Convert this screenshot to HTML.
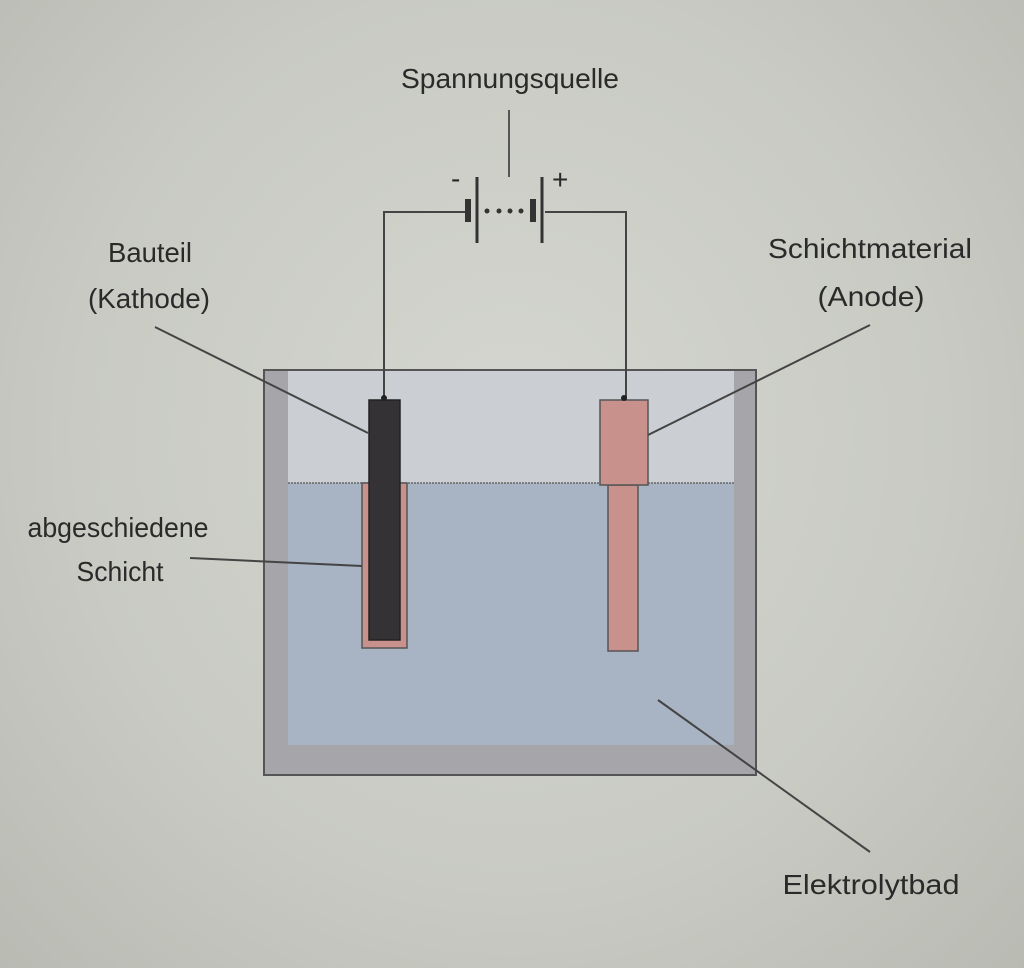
<!DOCTYPE html>
<html><head><meta charset="utf-8"><style>
html,body{margin:0;padding:0;}
body{width:1024px;height:968px;overflow:hidden;background:radial-gradient(ellipse at 50% 45%,#d4d6cf 0%,#c8cac3 60%,#b9bbb3 100%);}
svg{display:block}
text{font-family:"Liberation Sans Narrow","Liberation Sans",sans-serif;fill:#2a2a2a;font-size:28px;}
</style></head><body>
<svg width="1024" height="968" viewBox="0 0 1024 968">
<!-- tank -->
<rect x="264" y="370" width="492" height="405" fill="#a6a5a9" stroke="#555" stroke-width="2"/>
<rect x="288" y="371" width="446" height="112" fill="#cbced3"/>
<rect x="288" y="483" width="446" height="262" fill="#a8b3c3"/>
<line x1="288" y1="483" x2="734" y2="483" stroke="#666" stroke-width="1.5" stroke-dasharray="2 1"/>
<!-- cathode -->
<rect x="362" y="483" width="45" height="165" fill="#c9918b" stroke="#555" stroke-width="1.5"/>
<rect x="369" y="400" width="31" height="240" fill="#343234" stroke="#222" stroke-width="1.5"/>
<!-- anode -->
<rect x="608" y="485" width="30" height="166" fill="#c9918b" stroke="#555" stroke-width="1.5"/>
<rect x="600" y="400" width="48" height="85" fill="#c9918b" stroke="#555" stroke-width="1.5"/>
<!-- wires -->
<polyline points="384,400 384,212 468,212" fill="none" stroke="#444" stroke-width="2"/>
<polyline points="545,212 626,212 626,400" fill="none" stroke="#444" stroke-width="2"/>
<circle cx="384" cy="398" r="3" fill="#222"/>
<circle cx="624" cy="398" r="3" fill="#222"/>
<!-- battery -->
<line x1="509" y1="110" x2="509" y2="177" stroke="#555" stroke-width="2"/>
<line x1="468" y1="199" x2="468" y2="222" stroke="#333" stroke-width="6"/>
<line x1="477" y1="177" x2="477" y2="243" stroke="#333" stroke-width="3"/>
<line x1="533" y1="199" x2="533" y2="222" stroke="#333" stroke-width="6"/>
<line x1="542" y1="177" x2="542" y2="243" stroke="#333" stroke-width="3"/>
<circle cx="487" cy="211" r="2.5" fill="#333"/><circle cx="499" cy="211" r="2.5" fill="#333"/>
<circle cx="510" cy="211" r="2.5" fill="#333"/><circle cx="521" cy="211" r="2.5" fill="#333"/>
<text x="451" y="188" font-size="20">-</text>
<text x="552" y="189" font-size="20">+</text>
<!-- leader lines -->
<line x1="155" y1="327" x2="368" y2="433" stroke="#444" stroke-width="2"/>
<line x1="870" y1="325" x2="648" y2="435" stroke="#444" stroke-width="2"/>
<line x1="190" y1="558" x2="362" y2="566" stroke="#444" stroke-width="2"/>
<line x1="658" y1="700" x2="870" y2="852" stroke="#444" stroke-width="2"/>
<!-- labels -->
<text x="510" y="88" text-anchor="middle" textLength="218" lengthAdjust="spacingAndGlyphs">Spannungsquelle</text>
<text x="150" y="262" text-anchor="middle" textLength="84" lengthAdjust="spacingAndGlyphs">Bauteil</text>
<text x="149" y="308" text-anchor="middle" textLength="122" lengthAdjust="spacingAndGlyphs">(Kathode)</text>
<text x="870" y="258" text-anchor="middle" textLength="204" lengthAdjust="spacingAndGlyphs">Schichtmaterial</text>
<text x="871" y="306" text-anchor="middle" textLength="107" lengthAdjust="spacingAndGlyphs">(Anode)</text>
<text x="118" y="537" text-anchor="middle" textLength="181" lengthAdjust="spacingAndGlyphs">abgeschiedene</text>
<text x="120" y="581" text-anchor="middle" textLength="87" lengthAdjust="spacingAndGlyphs">Schicht</text>
<text x="871" y="894" text-anchor="middle" textLength="177" lengthAdjust="spacingAndGlyphs">Elektrolytbad</text>
</svg>
</body></html>
